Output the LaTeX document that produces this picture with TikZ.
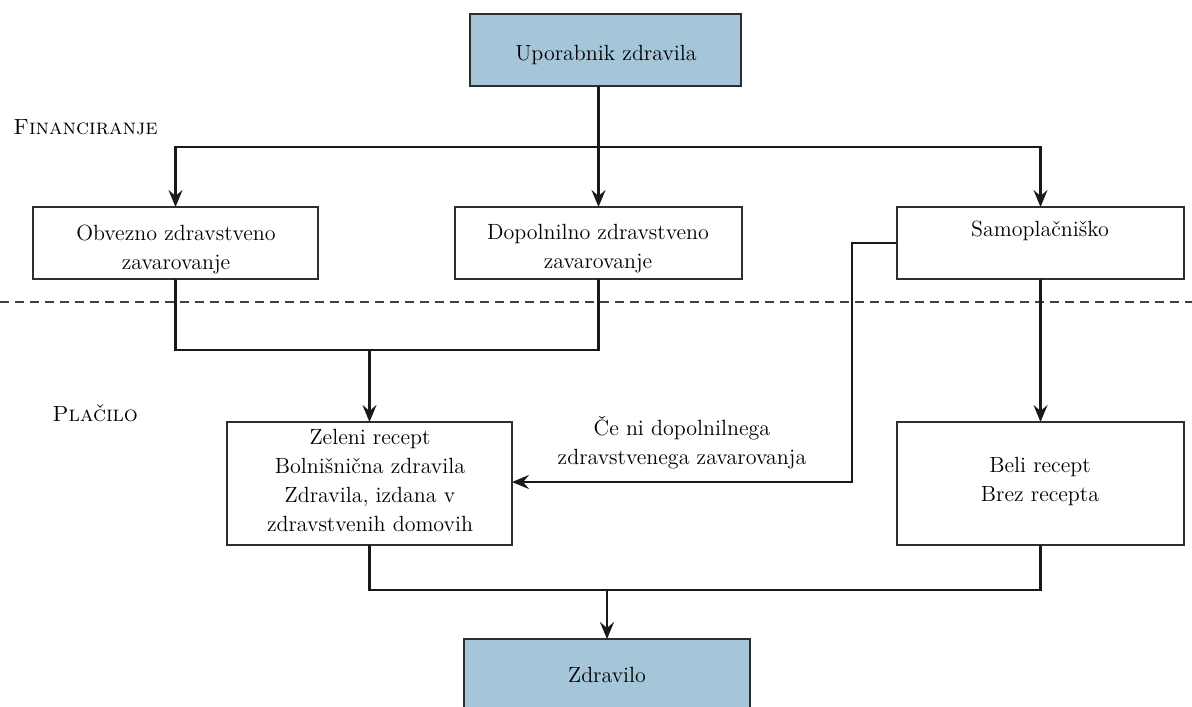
\documentclass[tikz,border=0pt]{standalone}
\usetikzlibrary{arrows.meta}
\definecolor{boxblue}{HTML}{A5C5D8}
\definecolor{boxline}{HTML}{2E2E2E}
\begin{document}
\begin{tikzpicture}[x=0.5pt,y=-0.5pt,
  box/.style={draw=boxline,line width=1pt,fill=white,inner sep=0pt,outer sep=0pt,anchor=north west},
  bluebox/.style={box,fill=boxblue},
  lbl/.style={font=\fontsize{11}{14.5}\selectfont,align=center,inner sep=0pt,text=black},
  sec/.style={font=\fontsize{11}{13}\selectfont\scshape,inner sep=0pt,anchor=base west,text=black},
  conn/.style={draw=black!90,line width=1.1pt},
  arr/.style={conn,-{Stealth[length=8.5pt,width=7pt,inset=3pt]}}]
\useasboundingbox (0,0) rectangle (1192,706);
\clip (0,0) rectangle (1192,706);
% boxes
\node[bluebox,minimum width=135.5pt,minimum height=36pt] (top) at (470,14) {};
\node[box,minimum width=142.5pt,minimum height=36pt] (b1) at (33,207) {};
\node[box,minimum width=143.5pt,minimum height=36pt] (b2) at (455,207) {};
\node[box,minimum width=143.5pt,minimum height=36pt] (b3) at (897,207) {};
\node[box,minimum width=142.5pt,minimum height=61.5pt] (zel) at (227,422) {};
\node[box,minimum width=143.5pt,minimum height=61.5pt] (beli) at (897,422) {};
\node[bluebox,minimum width=143pt,minimum height=60pt] (zd) at (464,639) {};
% texts
\node[lbl] (ttop) at (606,55) {Uporabnik zdravila};
\node[lbl] (tb1) at (176,249) {Obvezno zdravstveno\\zavarovanje};
\node[lbl] (tb2) at (598,249) {Dopolnilno zdravstveno\\zavarovanje};
\node[lbl] (tb3) at (1040,231) {Samopla\v{c}ni\v{s}ko};
\node[lbl] (tzel) at (370,480) {Zeleni recept\\Bolni\v{s}ni\v{c}na zdravila\\Zdravila, izdana v\\zdravstvenih domovih};
\node[lbl] (tbeli) at (1040,481) {Beli recept\\Brez recepta};
\node[lbl] (tzd) at (607,675) {Zdravilo};
\node[lbl] (tce) at (682,443) {\v{C}e ni dopolnilnega\\zdravstvenega zavarovanja};
\node[sec] (fin) at (13,134) {Financiranje};
\node[sec] (pla) at (52,421) {Pla\v{c}ilo};
% dashed separator
\coordinate (dL) at (0,302);
\coordinate (dR) at (1192,302);
\draw[draw=black!75,line width=0.8pt,dash pattern=on 4.5pt off 3pt] (dL) -- (dR);
% connectors
\coordinate (split) at (598.5,147);
\draw[arr] (top.south -| b2.north) -- (b2.north);
\draw[arr] (split) -| (b1.north);
\draw[arr] (split) -| (b3.north);
\coordinate (mA) at (369.5,350);
\draw[conn] (b1.south) |- (mA) -| (b2.south);
\draw[arr] (zel.north |- mA) -- (zel.north);
\coordinate (bend) at (852,482);
\draw[arr] (b3.west) -| (bend) -- (bend -| zel.east);
\draw[arr] (b3.south) -- (beli.north);
\coordinate (mB) at (607,590);
\draw[conn] (zel.south) |- (mB) -| (beli.south);
\draw[arr] (zd.north |- mB) -- (zd.north);
\end{tikzpicture}
\end{document}
